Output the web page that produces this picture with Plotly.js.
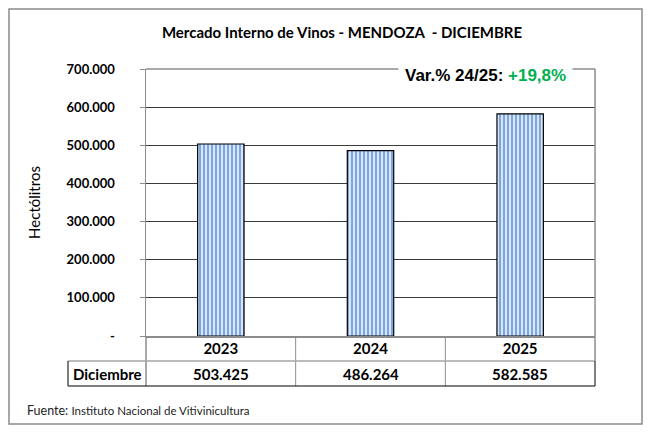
<!DOCTYPE html>
<html>
<head>
<meta charset="utf-8">
<script src="https://cdn.plot.ly/plotly-3.0.1.min.js"></script>
<style>
html,body{margin:0;padding:0;background:#fff;}
#chart{width:651px;height:433px;}
</style>
</head>
<body>
<div id="chart"></div>
<script>
const categories = ["2023", "2024", "2025"];
const values = [503425, 486264, 582585];
const valueLabels = ["503.425", "486.264", "582.585"];
const rowLabel = "Diciembre";
const yTickVals = [0, 100000, 200000, 300000, 400000, 500000, 600000, 700000];
const yTickText = ["-", "100.000", "200.000", "300.000", "400.000", "500.000", "600.000", "700.000"];
const titleText = "Mercado Interno de Vinos - MENDOZA  - DICIEMBRE";
const varLabel = "Var.% 24/25: ";
const varValue = "+19,8%";
const sourceLabel = "Fuente:";
const sourceText = "Instituto Nacional de Vitivinicultura";

const FONT = "Lato, 'Open Sans', sans-serif";
const row1 = -25/267, row2 = -50/267;
const tableLeft = (68-146)/449;

const trace = {
  type: "bar",
  x: categories,
  y: values,
  width: 0.31,
  marker: {
    color: "#c6d9f1",
    line: {color: "#000", width: 1.2},
    pattern: {shape: "|", fgcolor: "#6b9be0", bgcolor: "#d8e6f8", size: 4, solidity: 0.42, fillmode: "replace"}
  },
  hoverinfo: "x+y"
};

const annotations = [];
valueLabels.forEach((v, i) => {
  annotations.push({xref: "paper", yref: "paper", x: (i + 0.5) / categories.length, y: (row1+row2)/2, text: "<b>"+v+"</b>",
    showarrow: false, font: {family: FONT, size: 15, color: "#000"}, xanchor: "center", yanchor: "middle"});
});
annotations.push({xref: "paper", yref: "paper", x: (tableLeft+0)/2, y: (row1+row2)/2, text: "<b>"+rowLabel+"</b>",
  showarrow: false, font: {family: FONT, size: 15, color: "#000"}, xanchor: "center", yanchor: "middle"});
annotations.push({xref: "paper", yref: "paper", x: (485-146)/449, y: 1-(75-69)/267,
  text: "<b>"+varLabel+"</b><b><span style='color:#00b050'>"+varValue+"</span></b>",
  showarrow: false, bgcolor: "#fff", borderpad: 6, font: {family: "Arial, 'Liberation Sans', sans-serif", size: 17, color: "#000"},
  xanchor: "center", yanchor: "middle"});
annotations.push({xref: "paper", yref: "paper", x: (25-146)/449, y: (336-410)/267,
  text: sourceLabel + " <span style='font-size:11.5px'>"+sourceText+"</span>",
  showarrow: false, xanchor: "left", yanchor: "middle", font: {family: FONT, size: 12.5, color: "#222"}});

const G = "#8c8c8c";
const shapes = [
  {type: "rect", xref: "paper", yref: "paper", x0: (9-146)/449, x1: (642-146)/449, y0: (336-424)/267, y1: (336-9)/267, line: {color: "#8a8a8a", width: 1.5}},
  {type: "line", xref: "paper", yref: "paper", x0: 0, x1: 1, y0: 1, y1: 1, line: {color: G, width: 1.5}, layer: "below"},
  {type: "line", xref: "paper", yref: "paper", x0: 1, x1: 1, y0: row1, y1: 1, line: {color: G, width: 1.5}},
  {type: "line", xref: "paper", yref: "paper", x0: 0, x1: 0, y0: row2, y1: 0, line: {color: G, width: 1.5}},
  {type: "line", xref: "paper", yref: "paper", x0: 1/3, x1: 1/3, y0: row2, y1: 0, line: {color: G, width: 1}},
  {type: "line", xref: "paper", yref: "paper", x0: 2/3, x1: 2/3, y0: row2, y1: 0, line: {color: G, width: 1}},
  {type: "line", xref: "paper", yref: "paper", x0: tableLeft, x1: 1, y0: row1, y1: row1, line: {color: "#a6a6a6", width: 1.5}},
  {type: "line", xref: "paper", yref: "paper", x0: tableLeft, x1: 1, y0: row2, y1: row2, line: {color: "#000", width: 1}},
  {type: "line", xref: "paper", yref: "paper", x0: tableLeft, x1: tableLeft, y0: row2, y1: row1, line: {color: "#000", width: 1}},
  {type: "line", xref: "paper", yref: "paper", x0: 1, x1: 1, y0: row2, y1: row1, line: {color: "#000", width: 1}}
];

const layout = {
  width: 651, height: 433,
  margin: {l: 146, r: 56, t: 69, b: 97},
  paper_bgcolor: "#fff", plot_bgcolor: "#fff",
  showlegend: false,
  title: {text: "<b>"+titleText+"</b>", x: 342/651, xanchor: "center", y: 1-33/433, yanchor: "middle",
    font: {family: FONT, size: 15, color: "#000"}},
  xaxis: {type: "category", range: [-0.5, 2.5], showgrid: false, zeroline: false, showline: true, linecolor: G, linewidth: 1.5,
    ticks: "", tickfont: {family: FONT, size: 15, color: "#000"}, ticklabelstandoff: -2, fixedrange: true,
    tickvals: categories, ticktext: categories.map(c => "<b>"+c+"</b>")},
  yaxis: {range: [0, 700000], tickvals: yTickVals, ticktext: yTickText.map(t => "<b>"+t+"</b>"),
    showgrid: true, gridcolor: "#3c3c3c", gridwidth: 1, zeroline: false,
    showline: true, linecolor: G, linewidth: 1.5, ticks: "outside", ticklen: 5, tickcolor: G, tickwidth: 1,
    tickfont: {family: FONT, size: 13, color: "#000"}, ticklabelstandoff: 22, fixedrange: true,
    title: {text: "Hectólitros", font: {family: FONT, size: 15, color: "#000"}, standoff: 22}},
  annotations: annotations,
  shapes: shapes,
  bargap: 0.69
};

Plotly.newPlot("chart", [trace], layout, {displayModeBar: false, staticPlot: true});
</script>
</body>
</html>
